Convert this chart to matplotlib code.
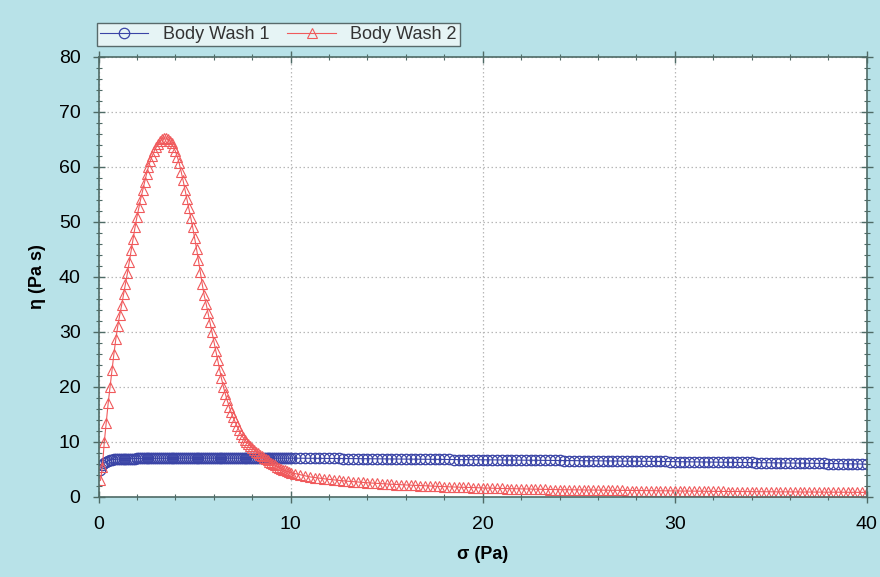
import matplotlib.pyplot as plt
from matplotlib.ticker import MultipleLocator

plt.rcParams['font.family'] = ['Liberation Sans', 'DejaVu Sans']

# shear stress sweep (Pa), shared by both samples
stress = [
    0.1, 0.2, 0.3, 0.4, 0.5, 0.6, 0.7, 0.8, 0.9, 1.0,
    1.1, 1.2, 1.3, 1.4, 1.5, 1.6, 1.7, 1.8, 1.9, 2.0,
    2.1, 2.2, 2.3, 2.4, 2.5, 2.6, 2.7, 2.8, 2.9, 3.0,
    3.1, 3.2, 3.3, 3.4, 3.5, 3.6, 3.7, 3.8, 3.9, 4.0,
    4.1, 4.2, 4.3, 4.4, 4.5, 4.6, 4.7, 4.8, 4.9, 5.0,
    5.1, 5.2, 5.3, 5.4, 5.5, 5.6, 5.7, 5.8, 5.9, 6.0,
    6.1, 6.2, 6.3, 6.4, 6.5, 6.6, 6.7, 6.8, 6.9, 7.0,
    7.1, 7.2, 7.3, 7.4, 7.5, 7.6, 7.7, 7.8, 7.9, 8.0,
    8.1, 8.2, 8.3, 8.4, 8.5, 8.6, 8.7, 8.8, 8.9, 9.0,
    9.1, 9.2, 9.3, 9.4, 9.5, 9.6, 9.7, 9.8, 9.9, 10.0,
    10.25, 10.5, 10.75, 11.0, 11.25, 11.5, 11.75, 12.0, 12.25, 12.5,
    12.75, 13.0, 13.25, 13.5, 13.75, 14.0, 14.25, 14.5, 14.75, 15.0,
    15.25, 15.5, 15.75, 16.0, 16.25, 16.5, 16.75, 17.0, 17.25, 17.5,
    17.75, 18.0, 18.25, 18.5, 18.75, 19.0, 19.25, 19.5, 19.75, 20.0,
    20.25, 20.5, 20.75, 21.0, 21.25, 21.5, 21.75, 22.0, 22.25, 22.5,
    22.75, 23.0, 23.25, 23.5, 23.75, 24.0, 24.25, 24.5, 24.75, 25.0,
    25.25, 25.5, 25.75, 26.0, 26.25, 26.5, 26.75, 27.0, 27.25, 27.5,
    27.75, 28.0, 28.25, 28.5, 28.75, 29.0, 29.25, 29.5, 29.75, 30.0,
    30.25, 30.5, 30.75, 31.0, 31.25, 31.5, 31.75, 32.0, 32.25, 32.5,
    32.75, 33.0, 33.25, 33.5, 33.75, 34.0, 34.25, 34.5, 34.75, 35.0,
    35.25, 35.5, 35.75, 36.0, 36.25, 36.5, 36.75, 37.0, 37.25, 37.5,
    37.75, 38.0, 38.25, 38.5, 38.75, 39.0, 39.25, 39.5, 39.75, 40.0,
]

# viscosity (Pa s)
wash1 = [
    4.9, 5.7, 6.15, 6.4, 6.55, 6.65, 6.72, 6.78, 6.82, 6.85,
    6.87, 6.89, 6.9, 6.91, 6.92, 6.93, 6.94, 6.95, 6.95, 6.96,
    6.96, 6.97, 6.97, 6.98, 6.98, 6.98, 6.99, 6.99, 6.99, 7.0,
    7.0, 7.0, 7.0, 7.01, 7.01, 7.01, 7.01, 7.02, 7.02, 7.02,
    7.02, 7.02, 7.03, 7.03, 7.03, 7.03, 7.03, 7.03, 7.04, 7.04,
    7.04, 7.04, 7.04, 7.04, 7.04, 7.04, 7.05, 7.05, 7.05, 7.05,
    7.05, 7.05, 7.05, 7.05, 7.05, 7.05, 7.05, 7.05, 7.05, 7.05,
    7.05, 7.05, 7.05, 7.05, 7.05, 7.05, 7.05, 7.05, 7.05, 7.05,
    7.05, 7.05, 7.05, 7.05, 7.05, 7.04, 7.04, 7.04, 7.04, 7.04,
    7.04, 7.04, 7.04, 7.03, 7.03, 7.03, 7.03, 7.03, 7.02, 7.02,
    7.01, 7.01, 7.0, 7.0, 6.99, 6.99, 6.98, 6.97, 6.97, 6.96,
    6.95, 6.95, 6.94, 6.93, 6.92, 6.92, 6.91, 6.9, 6.89, 6.89,
    6.88, 6.87, 6.86, 6.85, 6.85, 6.84, 6.83, 6.82, 6.81, 6.81,
    6.8, 6.79, 6.78, 6.77, 6.77, 6.76, 6.75, 6.74, 6.73, 6.73,
    6.72, 6.71, 6.7, 6.69, 6.69, 6.68, 6.67, 6.66, 6.65, 6.65,
    6.64, 6.63, 6.62, 6.61, 6.61, 6.6, 6.59, 6.58, 6.57, 6.57,
    6.56, 6.55, 6.54, 6.53, 6.53, 6.52, 6.51, 6.5, 6.49, 6.49,
    6.48, 6.47, 6.46, 6.45, 6.45, 6.44, 6.43, 6.42, 6.41, 6.4,
    6.39, 6.38, 6.37, 6.36, 6.35, 6.34, 6.33, 6.32, 6.31, 6.3,
    6.29, 6.28, 6.27, 6.26, 6.25, 6.24, 6.23, 6.22, 6.21, 6.2,
    6.19, 6.18, 6.17, 6.16, 6.14, 6.13, 6.12, 6.11, 6.09, 6.08,
    6.07, 6.05, 6.04, 6.03, 6.01, 6.0, 5.98, 5.97, 5.95, 5.94,
]

wash2 = [
    3.0, 5.5, 10.0, 13.5, 17.0, 20.0, 23.0, 26.0, 28.7, 31.0,
    33.0, 34.8, 36.8, 38.7, 40.6, 42.7, 44.8, 46.9, 49.0, 50.9,
    52.6, 54.2, 55.7, 57.2, 58.7, 60.0, 61.1, 62.0, 62.8, 63.5,
    64.1, 64.6, 65.0, 65.2, 65.2, 65.0, 64.7, 64.2, 63.6, 62.8,
    61.8, 60.6, 59.1, 57.5, 55.8, 54.1, 52.4, 50.7, 49.0, 47.1,
    45.1, 43.0, 40.8, 38.6, 36.6, 35.1, 33.4, 31.7, 30.0, 28.2,
    26.5, 24.8, 23.1, 21.5, 20.0, 18.7, 17.5, 16.4, 15.4, 14.5,
    13.7, 12.9, 12.2, 11.5, 10.9, 10.4, 10.0, 9.6, 9.2, 8.8,
    8.5, 8.2, 7.9, 7.6, 7.4, 7.1, 6.8, 6.6, 6.3, 6.1,
    5.9, 5.7, 5.5, 5.3, 5.1, 4.95, 4.8, 4.65, 4.5, 4.4,
    4.2, 4.0, 3.8, 3.62, 3.5, 3.38, 3.27, 3.16, 3.07, 2.98,
    2.9, 2.82, 2.75, 2.68, 2.61, 2.55, 2.49, 2.43, 2.38, 2.33,
    2.28, 2.23, 2.19, 2.15, 2.11, 2.07, 2.03, 1.99, 1.95, 1.92,
    1.88, 1.85, 1.81, 1.78, 1.75, 1.72, 1.69, 1.66, 1.63, 1.6,
    1.57, 1.55, 1.53, 1.51, 1.49, 1.47, 1.45, 1.43, 1.41, 1.39,
    1.37, 1.35, 1.33, 1.32, 1.31, 1.29, 1.28, 1.27, 1.26, 1.24,
    1.23, 1.22, 1.21, 1.2, 1.19, 1.18, 1.17, 1.16, 1.15, 1.14,
    1.13, 1.12, 1.11, 1.1, 1.09, 1.08, 1.07, 1.06, 1.05, 1.04,
    1.03, 1.03, 1.02, 1.01, 1.0, 1.0, 0.99, 0.98, 0.98, 0.97,
    0.96, 0.96, 0.95, 0.94, 0.94, 0.93, 0.93, 0.92, 0.91, 0.91,
    0.9, 0.9, 0.89, 0.88, 0.88, 0.87, 0.87, 0.86, 0.86, 0.85,
    0.85, 0.84, 0.84, 0.83, 0.83, 0.82, 0.82, 0.81, 0.81, 0.8,
]

bg = '#b8e2e8'
blue = '#3a44a6'
red = '#f05a5c'
spine = '#4f6b66'

fig = plt.figure(figsize=(8.8, 5.77), dpi=100, facecolor=bg)
ax = fig.add_axes([0.112, 0.139, 0.873, 0.763])

ax.plot(stress, wash1, color=blue, lw=0.8, marker='o', ms=7.5,
        mfc='none', mec=blue, mew=0.9, label='Body Wash 1')
ax.plot(stress, wash2, color=red, lw=0.8, marker='^', ms=7,
        mfc='none', mec=red, mew=0.8, label='Body Wash 2')

ax.set_xlim(0, 40)
ax.set_ylim(0, 80)
ax.xaxis.set_major_locator(MultipleLocator(10))
ax.xaxis.set_minor_locator(MultipleLocator(2))
ax.yaxis.set_major_locator(MultipleLocator(10))
ax.yaxis.set_minor_locator(MultipleLocator(2))
ax.tick_params(which='both', direction='inout', color=spine,
               top=True, right=True, labelsize=14, labelcolor='black')
ax.tick_params(which='major', length=8, width=1)
ax.tick_params(which='minor', length=5, width=0.8)
ax.tick_params(axis='x', which='major', pad=10)
ax.tick_params(axis='y', which='major', pad=9)
for s in ax.spines.values():
    s.set_color(spine)
    s.set_linewidth(1.2)
ax.grid(True, which='major', color='#b8b8b8', ls=(0, (1.2, 2)), lw=0.9)
ax.set_axisbelow(True)

ax.set_xlabel('σ (Pa)', fontsize=13, fontweight='bold', labelpad=9)
ax.set_ylabel('η (Pa s)', fontsize=13, fontweight='bold', labelpad=9)

leg = fig.legend(loc='lower left', bbox_to_anchor=(0.110, 0.921), ncol=2,
                 fontsize=13, frameon=True, fancybox=False, borderaxespad=0,
                 handlelength=2.7, handletextpad=0.8, columnspacing=1.0,
                 borderpad=0.15)
leg.get_frame().set_edgecolor('#3a4a4a')
leg.get_frame().set_facecolor('#f2f9f9')
leg.get_frame().set_linewidth(1.0)
for t in leg.get_texts():
    t.set_color('#333333')

fig.savefig('out.png', dpi=100, facecolor=bg)
